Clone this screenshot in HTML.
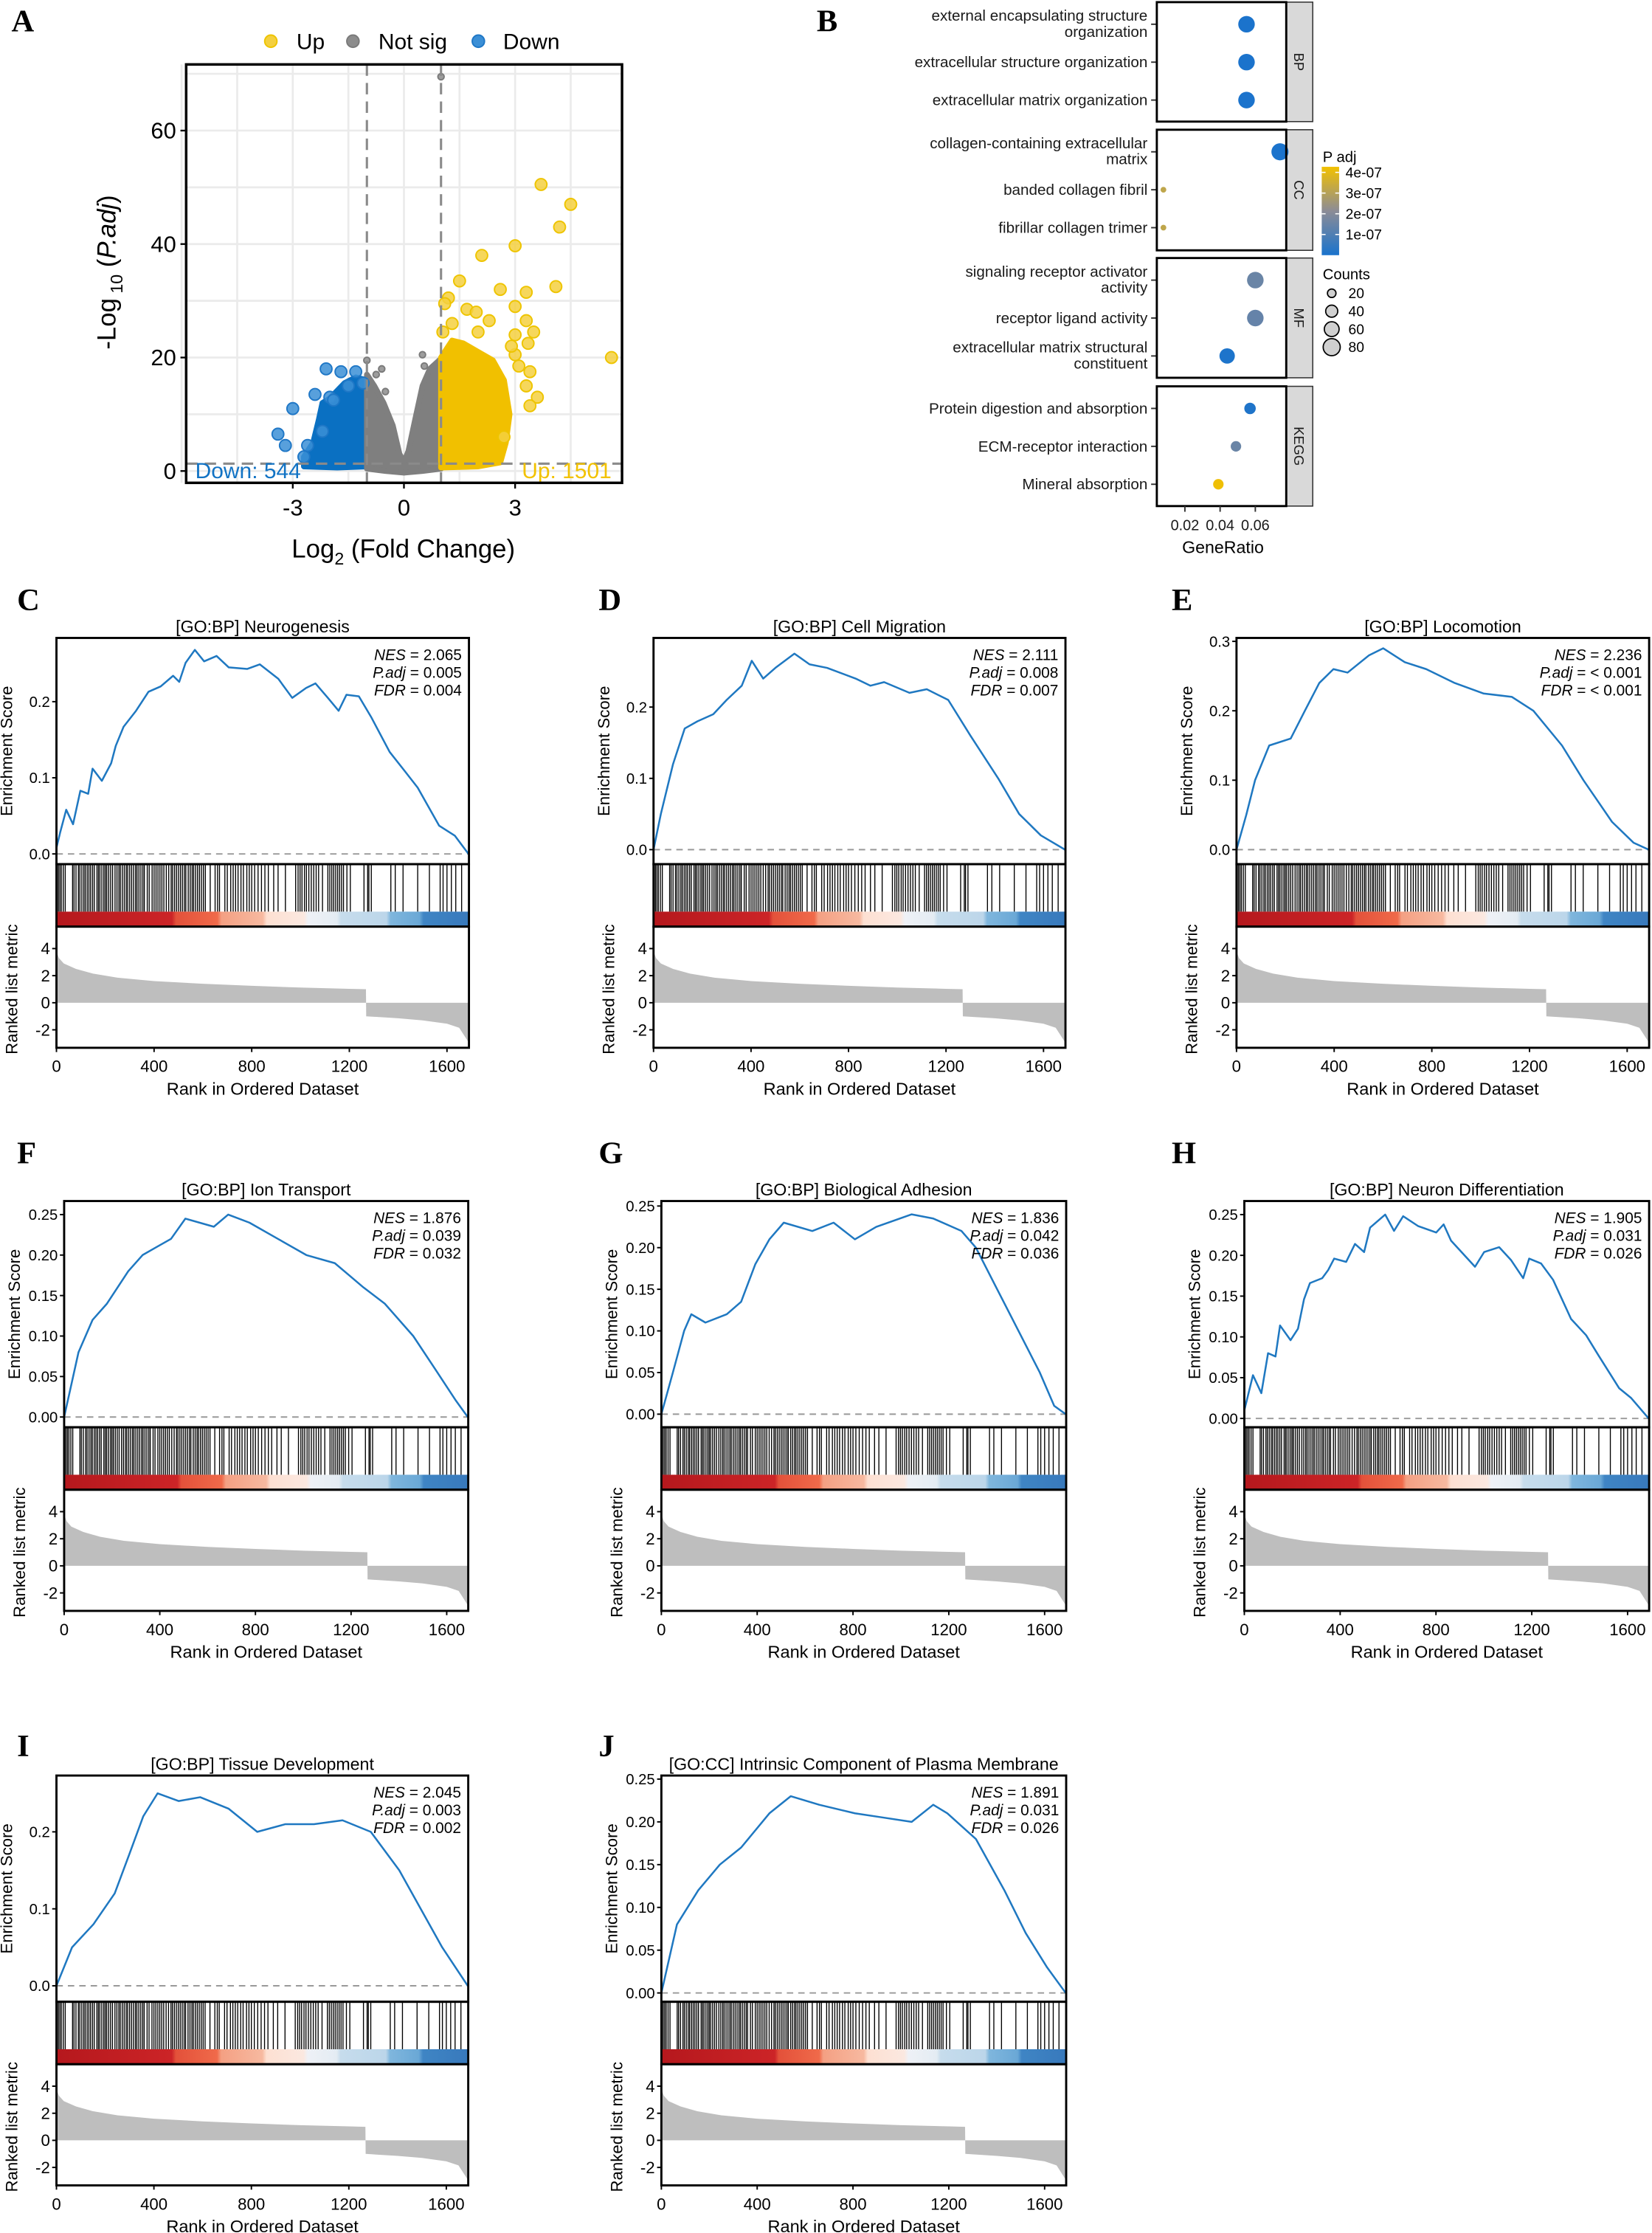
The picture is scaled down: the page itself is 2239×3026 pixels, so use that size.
<!DOCTYPE html>
<html><head><meta charset="utf-8"><title>Volcano, GO enrichment and GSEA panels</title>
<style>
html,body{margin:0;padding:0;background:#fff;}
svg{display:block;font-family:"Liberation Sans",Arial,sans-serif;}
.lt{font-family:"Liberation Serif",serif;font-weight:bold;font-size:22px;}
</style></head>
<body>
<svg id="fig" xmlns="http://www.w3.org/2000/svg" width="2239" height="3026" viewBox="0 0 1159 1566.4">
<rect x="0" y="0" width="1159" height="1566.4" fill="#fff"/>
</svg>
<script>
// ===== Volcano data =====
const volcXTicks = [-3, 0, 3];
const volcYTicks = [0, 20, 40, 60];
const upPoints = [[3.7,50.5],[4.5,47],[4.2,43],[3.0,39.7],[2.1,38],[1.5,33.5],[4.1,32.5],[2.6,32],[3.3,31.5],[1.2,30.5],[1.1,29.5],[3.0,29],[1.7,28.5],[1.95,28],[1.3,26],[2.3,26.5],[3.3,26.5],[1.05,24.5],[2.0,24.5],[3.0,24],[3.5,24.5],[3.35,22.5],[5.6,20],[3.0,20.5],[3.4,17.5],[3.6,13],[3.4,11.5],[3.3,15],[2.7,6],[3.1,18.5],[2.9,22]];
const notSigPoints = [[1.0,69.5],[-1.0,19.5],[-0.6,18],[0.5,20.5],[0.55,18.5],[-0.75,17],[-0.5,14]];
const downPoints = [[-2.1,18],[-1.7,17.5],[-1.3,17.5],[-1.5,15],[-2.4,13.5],[-3.0,11],[-3.4,6.5],[-3.2,4.5],[-2.6,4.5],[-2.2,7],[-2.0,13],[-2.7,2.5],[-1.1,15.5],[-1.9,12.5]];
const downCloud = [[-2.7,0.8],[-2.7,2.5],[-2.45,5],[-2.3,9],[-2.2,12],[-2.0,12.8],[-1.6,15.5],[-1.3,16.5],[-1.0,16],[-1.0,0.8],[-1.8,0.6]];
const graySideCloud = [[-1,0.4],[-1,17],[-0.8,15],[-0.55,12],[-0.3,8],[-0.12,3],[0,1.6],[0.12,3.5],[0.3,9],[0.5,15],[0.7,18],[1,19.8],[1,0.4],[0.5,0],[0,-0.3],[-0.5,0]];
const upCloud = [[1,0.6],[1,20],[1.3,23],[1.6,22.5],[2.0,21],[2.4,19.5],[2.7,16],[2.85,10],[2.75,5],[2.6,1.5],[2.0,0.8]];

// ===== GO dot plot data =====
const goTerms = [["external encapsulating structure","organization"],["extracellular structure organization"],["extracellular matrix organization"],["collagen-containing extracellular","matrix"],["banded collagen fibril"],["fibrillar collagen trimer"],["signaling receptor activator","activity"],["receptor ligand activity"],["extracellular matrix structural","constituent"],["Protein digestion and absorption"],["ECM-receptor interaction"],["Mineral absorption"]];
const goCategories = ["BP","CC","MF","KEGG"];
const geneRatio = [0.055,0.055,0.055,0.074,0.0078,0.0078,0.060,0.060,0.044,0.057,0.049,0.039];
const padjVals = [0.01e-7,0.01e-7,0.01e-7,0.01e-7,3.2e-7,3.2e-7,1.5e-7,1.4e-7,0.05e-7,0.1e-7,1.5e-7,4.2e-7];
const geneCounts = [75,75,75,80,9,9,75,75,65,36,30,30];
const padjTicks = [1e-7,2e-7,3e-7,4e-7];
const countTicks = [20,40,60,80];
const ratioTicks = [0.02,0.04,0.06];

// ===== GSEA data =====
const rankTicks = [0,400,800,1200,1600];
const metricTicks = [4,2,0,-2];
const metricCurve = [[0,3.8],[10,3.3],[30,2.9],[80,2.5],[150,2.15],[250,1.85],[400,1.6],[600,1.4],[800,1.25],[1000,1.12],[1200,1.03],[1268,1.0],[1269,-1.0],[1400,-1.15],[1500,-1.3],[1600,-1.55],[1650,-1.85],[1688,-2.9]];
const hitRanks = [3,8,14,20,28,36,66,72,80,90,96,104,112,118,126,133,140,148,155,166,172,178,186,194,200,206,214,222,230,240,248,256,262,270,278,286,292,300,308,316,324,330,338,346,354,360,372,380,392,400,408,416,424,432,440,450,460,470,476,484,492,500,508,516,524,530,540,548,556,562,570,578,586,594,602,610,630,650,660,668,690,700,714,724,734,744,756,766,780,790,800,812,826,840,854,868,890,908,938,980,990,998,1006,1016,1024,1034,1044,1054,1064,1074,1090,1112,1120,1128,1136,1144,1152,1160,1168,1176,1190,1204,1260,1275,1280,1290,1370,1388,1420,1480,1528,1572,1584,1600,1618,1636,1660];
const esC = [[0,0.008],[15,0.028],[40,0.058],[68,0.039],[98,0.083],[130,0.079],[148,0.112],[186,0.096],[224,0.119],[243,0.142],[275,0.167],[326,0.188],[377,0.213],[427,0.22],[478,0.234],[503,0.226],[529,0.251],[567,0.268],[605,0.253],[656,0.26],[706,0.245],[782,0.243],[833,0.249],[909,0.23],[966,0.205],[1023,0.218],[1061,0.224],[1112,0.205],[1156,0.188],[1188,0.209],[1239,0.207],[1289,0.18],[1365,0.134],[1429,0.108],[1480,0.087],[1568,0.037],[1632,0.024],[1688,0]];
const esD = [[0,0],[30,0.05],[80,0.12],[128,0.17],[180,0.18],[245,0.19],[300,0.21],[362,0.23],[403,0.265],[450,0.24],[500,0.255],[578,0.275],[640,0.26],[712,0.255],[829,0.24],[890,0.23],[946,0.235],[1050,0.22],[1121,0.225],[1209,0.21],[1300,0.16],[1414,0.1],[1500,0.05],[1589,0.02],[1688,0]];
const esE = [[0,0],[40,0.05],[76,0.1],[134,0.15],[222,0.16],[280,0.2],[339,0.24],[397,0.26],[455,0.255],[543,0.28],[601,0.29],[689,0.27],[777,0.26],[894,0.24],[1011,0.225],[1128,0.22],[1216,0.2],[1333,0.15],[1421,0.1],[1538,0.04],[1626,0.01],[1688,0]];
const esF = [[0,0],[60,0.08],[119,0.12],[179,0.14],[268,0.18],[328,0.2],[387,0.21],[447,0.22],[507,0.245],[626,0.235],[686,0.25],[775,0.24],[894,0.22],[1013,0.2],[1132,0.19],[1192,0.175],[1252,0.16],[1341,0.14],[1460,0.1],[1550,0.06],[1639,0.02],[1688,0]];
const esG = [[0,0],[48,0.05],[95,0.1],[125,0.12],[184,0.11],[273,0.12],[333,0.135],[392,0.18],[451,0.21],[511,0.23],[630,0.22],[719,0.23],[808,0.21],[897,0.225],[1045,0.24],[1135,0.235],[1253,0.22],[1313,0.2],[1402,0.15],[1491,0.1],[1580,0.05],[1640,0.01],[1688,0]];
const esH = [[0,0.01],[36,0.053],[71,0.031],[99,0.08],[130,0.076],[149,0.114],[193,0.096],[224,0.11],[249,0.146],[274,0.166],[325,0.172],[350,0.182],[375,0.196],[425,0.192],[462,0.214],[500,0.204],[525,0.234],[588,0.25],[625,0.23],[663,0.248],[725,0.236],[801,0.228],[832,0.238],[863,0.218],[963,0.186],[1001,0.204],[1064,0.21],[1114,0.194],[1164,0.172],[1189,0.196],[1239,0.19],[1289,0.17],[1364,0.122],[1427,0.102],[1477,0.078],[1565,0.037],[1615,0.025],[1688,0]];
const esI = [[0,0],[64,0.05],[152,0.08],[239,0.12],[298,0.17],[356,0.22],[415,0.25],[502,0.24],[590,0.245],[707,0.23],[824,0.2],[940,0.21],[1057,0.21],[1174,0.215],[1290,0.2],[1407,0.15],[1495,0.1],[1583,0.05],[1688,0]];
const esJ = [[0,0],[65,0.08],[154,0.12],[244,0.15],[333,0.17],[451,0.21],[540,0.23],[659,0.22],[808,0.21],[927,0.205],[1045,0.2],[1135,0.22],[1194,0.21],[1313,0.18],[1432,0.12],[1521,0.07],[1610,0.03],[1688,0]];
const esTicks1 = [0, 0.1, 0.2];
const esTicksE = [0, 0.1, 0.2, 0.3];
const esTicks2 = [0, 0.05, 0.10, 0.15, 0.20, 0.25];

const NS = "http://www.w3.org/2000/svg";
const svg = document.getElementById('fig');
function mk(tag, attrs, parent){
  const e = document.createElementNS(NS, tag);
  for (const k in attrs) e.setAttribute(k, attrs[k]);
  (parent||svg).appendChild(e);
  return e;
}
function txt(s, attrs, parent){ const e = mk('text', attrs, parent); e.textContent = s; return e; }

// defs
const defs = mk('defs', {});
const cg = mk('linearGradient', {id:'rankgrad', x1:'0', x2:'1', y1:'0', y2:'0'}, defs);
[[0,'#b5181d'],[0.28,'#cc2427'],[0.29,'#e3513a'],[0.39,'#f06a4a'],[0.40,'#f4a083'],[0.50,'#f7b9a0'],[0.51,'#fde0d2'],[0.60,'#fbe8e0'],[0.61,'#eef1f6'],[0.68,'#e4ecf3'],[0.69,'#c6dcec'],[0.80,'#bcd6ea'],[0.81,'#7fb6dd'],[0.88,'#6aa8d6'],[0.89,'#3f85c4'],[1,'#3879bc']].forEach(s=>mk('stop',{offset:s[0],'stop-color':s[1]},cg));
const pg = mk('linearGradient', {id:'padjgrad', x1:'0', x2:'0', y1:'1', y2:'0'}, defs);
[[0,'#1a73cc'],[0.5,'#8c8c96'],[1,'#f2c100']].forEach(s=>mk('stop',{offset:s[0],'stop-color':s[1]},pg));

// panel letters
[['A',8,22],['B',573,22],['C',12,428],['D',420,428],['E',822,428],['F',12,816],['G',420,816],['H',822,816],['I',12,1232],['J',420,1232]].forEach(l=>{
  const t = txt(l[0], {x:l[1], y:l[2], class:'lt'});
  
  
});

// ===== Volcano =====
(function(){
  const g = mk('g', {});
  
  
  const L=130.6, R=436.4, T=45.2, B=338.7;
  const X = v => 283.4 + v*26.0;
  const Y = v => 330.4 - v*3.98;
  mk('rect',{x:L,y:T,width:R-L,height:B-T,fill:'#fff'},g);
  const grid = mk('g',{stroke:'#ebebeb','stroke-width':1.4},g);
  
  
  [-6,-4.5,-3,-1.5,0,1.5,3,4.5].forEach(v=>mk('line',{x1:X(v),x2:X(v),y1:T,y2:B},grid));
  [0,10,20,30,40,50,60,70].forEach(v=>mk('line',{x1:L,x2:R,y1:Y(v),y2:Y(v)},grid));
  const clouds = [[downCloud,'#0a70c2','down-cloud'],[graySideCloud,'#7f7f7f','notsig-cloud'],[upCloud,'#f1c000','up-cloud']];
  clouds.forEach(c=>{
    const p = mk('polygon',{points:c[0].map(q=>X(q[0])+','+Y(q[1])).join(' '),fill:c[1],stroke:c[1],'stroke-width':4,'stroke-linejoin':'round'},g);
    
    
  });
  const sets = [[notSigPoints,'#8c8c8c','#7a7a7a',2.2],[downPoints,'#3b8fd6','#1f77c6',4.1],[upPoints,'#f4d03f','#eec400',4.1]];
  sets.forEach((s,si)=>{
    s[0].forEach(p=>{
      const c = mk('circle',{cx:X(p[0]),cy:Y(p[1]),r:s[3],fill:s[1],stroke:s[2],'stroke-width':1,'fill-opacity':0.85},g);
      
      
    });
  });
  const dl = mk('g',{stroke:'#8a8a8a','stroke-width':1.6,'stroke-dasharray':'8,5'},g);
  
  
  mk('line',{x1:X(-1),x2:X(-1),y1:T,y2:B},dl);
  mk('line',{x1:X(1),x2:X(1),y1:T,y2:B},dl);
  mk('line',{x1:L,x2:R,y1:Y(1.3),y2:Y(1.3)},dl);
  const dn = txt('Down: 544',{x:137,y:335.5,'font-size':15.5,fill:'#1273c4'},g);
  
  
  const up = txt('Up: 1501',{x:429,y:335.5,'font-size':15.5,fill:'#f2c200','text-anchor':'end'},g);
  
  
  mk('rect',{x:L,y:T,width:R-L,height:B-T,fill:'none',stroke:'#000','stroke-width':1.8},g);
  volcXTicks.forEach(v=>{
    mk('line',{x1:X(v),x2:X(v),y1:B,y2:B+4,stroke:'#000','stroke-width':1.2},g);
    const t = txt(v===0?'0':String(v),{x:X(v),y:B+23,'font-size':16,'text-anchor':'middle'},g);
    
    
  });
  volcYTicks.forEach(v=>{
    mk('line',{x1:L-4,x2:L,y1:Y(v),y2:Y(v),stroke:'#000','stroke-width':1.2},g);
    const t = txt(String(v),{x:L-7,y:Y(v)+5.5,'font-size':16,'text-anchor':'end'},g);
    
    
  });
  const xt = txt('',{x:283,y:391,'font-size':18,'text-anchor':'middle'},g);
  xt.innerHTML = 'Log<tspan dy="5" font-size="12">2</tspan><tspan dy="-5"> (Fold Change)</tspan>';
  
  
  const yt = txt('',{transform:'translate(81,191) rotate(-90)','font-size':18,'text-anchor':'middle'},g);
  yt.innerHTML = '-Log<tspan dy="5" font-size="12"> 10</tspan><tspan dy="-5"> (</tspan><tspan font-style="italic">P.adj</tspan><tspan>)</tspan>';
  
  
  const leg = [['Up','#f4d03f','#eec400',190,208],['Not sig','#8c8c8c','#7a7a7a',247.6,265.5],['Down','#3b8fd6','#1f77c6',335.6,353]];
  leg.forEach(l=>{
    const lg = mk('g',{},g);
    
    
    mk('circle',{cx:l[3],cy:28.9,r:4.3,fill:l[1],stroke:l[2],'stroke-width':1},lg);
    txt(l[0],{x:l[4],y:34.5,'font-size':15.5},lg);
  });
})();

// ===== GO dot plot =====
(function(){
  const g = mk('g',{});
  
  
  const L=811.6, R=902.4;
  const facets = [[1.5,85.3],[91,175.6],[181,265],[271,355]];
  const X = v => 831.3 + (v-0.02)*1235;
  const rOf = c => Math.sqrt(c)*0.67;
  function colOf(p){
    const t = Math.max(0,Math.min(1,(p)/4.27e-7));
    const a=[26,115,204], m=[140,140,150], b=[242,193,0];
    let c;
    if (t<0.5){ const u=t/0.5; c=a.map((x,i)=>Math.round(x+(m[i]-x)*u)); }
    else { const u=(t-0.5)/0.5; c=m.map((x,i)=>Math.round(x+(b[i]-x)*u)); }
    return 'rgb('+c.join(',')+')';
  }
  facets.forEach((f,fi)=>{
    const fg = mk('g',{},g);
    
    
    mk('rect',{x:L,y:f[0],width:R-L,height:f[1]-f[0],fill:'#fff'},fg);
    const strip = mk('rect',{x:R,y:f[0],width:18.6,height:f[1]-f[0],fill:'#d9d9d9',stroke:'#333','stroke-width':0.8},fg);
    
    
    const st = txt(goCategories[fi],{transform:'translate('+(R+5.5)+','+((f[0]+f[1])/2)+') rotate(90)','font-size':9.5,'text-anchor':'middle',fill:'#1a1a1a'},fg);
    
    
    for (let k=0;k<3;k++){
      const idx = fi*3+k;
      const yy = f[0] + 15.5 + k*26.6;
      mk('line',{x1:L-4,x2:L,y1:yy,y2:yy,stroke:'#333','stroke-width':1},fg);
      const lines = goTerms[idx];
      lines.forEach((ln,li)=>{
        const off = lines.length===2 ? (li===0?-2.5:8.8) : 3.6;
        const t = txt(ln,{x:L-6.5,y:yy+off,'font-size':10.7,'text-anchor':'end',fill:'#1a1a1a'},fg);
        
        
      });
      const c = mk('circle',{cx:X(geneRatio[idx]),cy:yy,r:rOf(geneCounts[idx]),fill:colOf(padjVals[idx])},fg);
      
      
    }
    mk('rect',{x:L,y:f[0],width:R-L,height:f[1]-f[0],fill:'none',stroke:'#000','stroke-width':1.5},fg);
  });
  ratioTicks.forEach(v=>{
    mk('line',{x1:X(v),x2:X(v),y1:355,y2:359,stroke:'#333','stroke-width':1},g);
    const t = txt(v.toFixed(2),{x:X(v),y:372,'font-size':10.3,'text-anchor':'middle',fill:'#1a1a1a'},g);
    
    
  });
  const xt = txt('GeneRatio',{x:858,y:388,'font-size':12,'text-anchor':'middle'},g);
  
  
  const cb = mk('g',{},g);
  
  
  txt('P adj',{x:928,y:113.5,'font-size':10.5},cb);
  mk('rect',{x:927.3,y:117,width:12.2,height:62,fill:'url(#padjgrad)'},cb);
  const cy = v => 179 - v/4.27e-7*62;
  padjTicks.forEach(v=>{
    mk('line',{x1:927.3,x2:930,y1:cy(v),y2:cy(v),stroke:'#fff','stroke-width':0.8},cb);
    mk('line',{x1:936.8,x2:939.5,y1:cy(v),y2:cy(v),stroke:'#fff','stroke-width':0.8},cb);
    txt(Math.round(v*1e7)+'e-07',{x:944,y:cy(v)+3.5,'font-size':10},cb);
  });
  const cl = mk('g',{},g);
  
  
  txt('Counts',{x:928,y:196,'font-size':10.5},cl);
  countTicks.forEach((v,i)=>{
    const yy = 205.7 + i*12.6;
    mk('circle',{cx:934.3,cy:yy,r:rOf(v),fill:'#d0d0d0',stroke:'#000','stroke-width':0.9},cl);
    txt(String(v),{x:946,y:yy+3.5,'font-size':10},cl);
  });
})();

// ===== GSEA panels =====
function gsea(cfg){
  const g = mk('g',{});
  
  
  const o = cfg.off, L = cfg.x0, R = cfg.x1;
  const N = 1690;
  const X = r => L + r*(R-L)/N;
  const Y = v => cfg.zero + o - v*cfg.per;
  const MY = v => 703.4 + o - v*9.5;
  const esTop = 447.5+o, esBot = 606.2+o, hitBot = 650+o, mBot = 735+o;
  const tt = txt(cfg.title,{x:(L+R)/2,y:443.5+o,'font-size':12,'text-anchor':'middle'},g);
  
  
  mk('line',{x1:L,x2:R,y1:Y(0),y2:Y(0),stroke:'#999','stroke-width':1,'stroke-dasharray':'4.5,3.5'},g);
  const line = mk('polyline',{points:cfg.es.map(p=>X(p[0]).toFixed(2)+','+Y(p[1]).toFixed(2)).join(' '),fill:'none',stroke:'#1f78c1','stroke-width':1.3,'stroke-linejoin':'round'},g);
  
  
  const st = [['NES',cfg.stats[0]],['P.adj',cfg.stats[1]],['FDR',cfg.stats[2]]];
  st.forEach((s,i)=>{
    const t = txt('',{x:R-5,y:463+o+i*12.4,'font-size':10.8,'text-anchor':'end'},g);
    t.innerHTML = '<tspan font-style="italic">'+s[0]+'</tspan> = '+s[1];
    
    
  });
  const hg = mk('g',{stroke:'#000','stroke-width':0.7},g);
  
  
  hitRanks.forEach(r=>mk('line',{x1:X(r),x2:X(r),y1:esBot,y2:639.5+o},hg));
  const bar = mk('rect',{x:L,y:639.5+o,width:R-L,height:10.5,fill:'url(#rankgrad)'},g);
  
  
  let pts = X(0)+','+MY(0)+' ';
  metricCurve.forEach(p=>{pts += X(p[0]).toFixed(2)+','+MY(p[1]).toFixed(2)+' ';});
  pts += X(1688)+','+MY(0);
  const area = mk('polygon',{points:pts,fill:'#bebebe'},g);
  
  
  mk('rect',{x:L,y:esTop,width:R-L,height:esBot-esTop,fill:'none',stroke:'#000','stroke-width':1.5},g);
  mk('rect',{x:L,y:esBot,width:R-L,height:hitBot-esBot,fill:'none',stroke:'#000','stroke-width':1.5},g);
  mk('rect',{x:L,y:hitBot,width:R-L,height:mBot-hitBot,fill:'none',stroke:'#000','stroke-width':1.5},g);
  cfg.ticks.forEach(v=>{
    mk('line',{x1:L-3,x2:L,y1:Y(v),y2:Y(v),stroke:'#000','stroke-width':1},g);
    const t = txt(v.toFixed(cfg.dec),{x:L-4.5,y:Y(v)+3.7,'font-size':10.5,'text-anchor':'end'},g);
    
    
  });
  metricTicks.forEach(v=>{
    mk('line',{x1:L-3,x2:L,y1:MY(v),y2:MY(v),stroke:'#000','stroke-width':1},g);
    const t = txt(String(v),{x:L-4.5,y:MY(v)+4,'font-size':11.5,'text-anchor':'end'},g);
    
    
  });
  rankTicks.forEach(v=>{
    mk('line',{x1:X(v),x2:X(v),y1:mBot,y2:mBot+3,stroke:'#000','stroke-width':1},g);
    const t = txt(String(v),{x:X(v),y:752+o,'font-size':11.5,'text-anchor':'middle'},g);
    
    
  });
  const xt = txt('Rank in Ordered Dataset',{x:(L+R)/2,y:768+o,'font-size':12.2,'text-anchor':'middle'},g);
  
  
  const yt = txt('Enrichment Score',{transform:'translate('+(L-31)+','+((esTop+esBot)/2)+') rotate(-90)','font-size':11.5,'text-anchor':'middle'},g);
  
  
  const yt2 = txt('Ranked list metric',{transform:'translate('+(L-27.5)+','+(694+o)+') rotate(-90)','font-size':11.5,'text-anchor':'middle'},g);
  
  
}
gsea({name:'gsea-neurogenesis',title:'[GO:BP] Neurogenesis',x0:39.6,x1:329,off:0,zero:599,per:534,es:esC,ticks:esTicks1,dec:1,stats:['2.065','0.005','0.004']});
gsea({name:'gsea-cell-migration',title:'[GO:BP] Cell Migration',x0:458.5,x1:747.5,off:0,zero:596,per:500,es:esD,ticks:esTicks1,dec:1,stats:['2.111','0.008','0.007']});
gsea({name:'gsea-locomotion',title:'[GO:BP] Locomotion',x0:867.5,x1:1157,off:0,zero:596,per:487,es:esE,ticks:esTicksE,dec:1,stats:['2.236','< 0.001','< 0.001']});
gsea({name:'gsea-ion-transport',title:'[GO:BP] Ion Transport',x0:45,x1:328.5,off:395,zero:599,per:568,es:esF,ticks:esTicks2,dec:2,stats:['1.876','0.039','0.032']});
gsea({name:'gsea-biological-adhesion',title:'[GO:BP] Biological Adhesion',x0:464,x1:748,off:395,zero:597,per:584,es:esG,ticks:esTicks2,dec:2,stats:['1.836','0.042','0.036']});
gsea({name:'gsea-neuron-differentiation',title:'[GO:BP] Neuron Differentiation',x0:873,x1:1157,off:395,zero:600,per:572,es:esH,ticks:esTicks2,dec:2,stats:['1.905','0.031','0.026']});
gsea({name:'gsea-tissue-development',title:'[GO:BP] Tissue Development',x0:39.6,x1:328.5,off:798,zero:595,per:540,es:esI,ticks:esTicks1,dec:1,stats:['2.045','0.003','0.002']});
gsea({name:'gsea-plasma-membrane',title:'[GO:CC] Intrinsic Component of Plasma Membrane',x0:464,x1:748,off:798,zero:600,per:600,es:esJ,ticks:esTicks2,dec:2,stats:['1.891','0.031','0.026']});
</script>
</body></html>
